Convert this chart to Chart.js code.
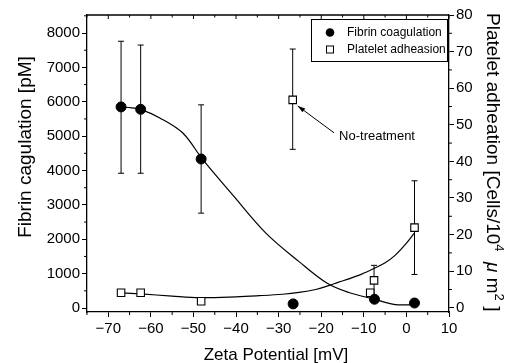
<!DOCTYPE html>
<html><head><meta charset="utf-8">
<script src="https://cdn.jsdelivr.net/npm/chart.js@4/dist/chart.umd.min.js"></script>
<style>html,body{margin:0;padding:0;background:#fff}</style>
</head><body>
<canvas id="c" width="519" height="363" style="width:519px;height:363px;display:block"></canvas>
<script>
// ---- data ----
const fibrinX = [-67.0, -62.4, -48.2, -26.6, -7.5, 1.9];
const fibrinY = [5850, 5780, 4335, 120, 255, 145];
const fibrinErrLow  = [3920, 3920, 2760, null, null, null];
const fibrinErrHigh = [7760, 7650, 5910, null, null, null];

const plateletX = [-67.0, -62.4, -48.2, -26.7, -8.5, -7.6, 1.9];
const plateletY = [4.1, 4.1, 1.8, 56.8, 4.1, 7.5, 21.9];
const plateletErrLow  = [null, null, 1.3, 43.3, null, 3.4, 9.1];
const plateletErrHigh = [null, null, 2.3, 70.7, null, 11.6, 34.7];

const fibrinFitX = [-67.0, -64.5, -62.4, -57.9, -52.5, -47.8, -40.8, -33.0, -25.2, -18.6, -13.5, -7.7, -2.6, 1.9];
const fibrinFitY = [5850, 5820, 5780, 5530, 5090, 4315, 3290, 2180, 1350, 720, 450, 262, 100, 100];

const plateletFitX = [-67.0, -62.4, -55.0, -48.5, -40.0, -34.6, -29.1, -25.2, -21.3, -18.4, -15.9, -13.5, -10.5, -7.7, -5.0, -2.6, -0.4, 1.8];
const plateletFitY = [4.1, 3.8, 3.2, 2.8, 3.0, 3.3, 3.7, 4.2, 5.0, 6.0, 7.0, 7.9, 9.2, 10.7, 12.3, 14.4, 17.1, 20.3];

const xTicks = [-70, -60, -50, -40, -30, -20, -10, 0, 10];
const xMinor = [-75, -65, -55, -45, -35, -25, -15, -5, 5];
const leftTicks = [0, 1000, 2000, 3000, 4000, 5000, 6000, 7000, 8000];
const leftMinor = [500, 1500, 2500, 3500, 4500, 5500, 6500, 7500, 8500];
const rightTicks = [0, 10, 20, 30, 40, 50, 60, 70, 80];
const rightMinor = [5, 15, 25, 35, 45, 55, 65, 75];

const seriesNames = ['Fibrin coagulation', 'Platelet adheasion'];
const xTitle = 'Zeta Potential [mV]';
const leftTitle = 'Fibrin cagulation [pM]';
const noteText = 'No-treatment';
const noteX = -15.8, noteY = 46.7;       // text anchor (right axis units)
const noteTargetX = -26.7, noteTargetY = 56.8;

// ---- helpers ----
const FONT = '"Liberation Sans", Arial, Helvetica, sans-serif';
const toPts = (xs, ys) => xs.map((x, i) => ({x, y: ys[i]}));
function errSegments(xs, lo, hi) {
  const out = [];
  xs.forEach((x, i) => { if (lo[i] == null) return; out.push({x, y: lo[i]}, {x, y: hi[i]}, {x, y: null}); });
  return out;
}
function errCaps(xs, lo, hi) {
  const out = [];
  xs.forEach((x, i) => { if (lo[i] == null) return; out.push({x, y: lo[i]}, {x, y: hi[i]}); });
  return out;
}
const fmt = v => (v < 0 ? '\u2212' + Math.abs(v) : String(v));

const decor = {
  id: 'decor',
  afterDraw(chart) {
    const c = chart.ctx, a = chart.chartArea;
    const sx = chart.scales.x, sy = chart.scales.y, sr = chart.scales.y2;
    c.save();
    c.strokeStyle = '#000'; c.fillStyle = '#000';
    c.lineWidth = 1.3;
    c.beginPath(); c.moveTo(a.left, a.top); c.lineTo(a.right, a.top); c.stroke();
    c.lineWidth = 1;
    c.beginPath();
    xTicks.forEach(v => { const p = sx.getPixelForValue(v); c.moveTo(p, a.top); c.lineTo(p, a.top + 4); });
    xMinor.forEach(v => { const p = sx.getPixelForValue(v); c.moveTo(p, a.top); c.lineTo(p, a.top + 2.5); });
    xMinor.forEach(v => { const p = sx.getPixelForValue(v); c.moveTo(p, a.bottom); c.lineTo(p, a.bottom + 3); });
    leftMinor.forEach(v => { const p = sy.getPixelForValue(v); c.moveTo(a.left, p); c.lineTo(a.left - 3, p); });
    rightMinor.forEach(v => { const p = sr.getPixelForValue(v); c.moveTo(a.right, p); c.lineTo(a.right + 3, p); });
    c.stroke();

    c.textBaseline = 'alphabetic';
    c.font = '17px ' + FONT; c.textAlign = 'center';
    c.fillText(xTitle, 276, 360);
    c.save(); c.translate(31, 147); c.rotate(-Math.PI / 2);
    c.font = '19px ' + FONT; c.fillText(leftTitle, 0, 0); c.restore();

    c.save(); c.translate(487, 13); c.rotate(Math.PI / 2);
    c.textAlign = 'left';
    const parts = [
      ['Platelet adheation [Cells/10', '19px ' + FONT, 0],
      ['4', '13px ' + FONT, -8],
      ['  ', '19px ' + FONT, 0],
      ['\u03bc', 'italic 19px ' + FONT, 0],
      [' m', '19px ' + FONT, 0],
      ['2', '13px ' + FONT, -8],
      [' ]', '19px ' + FONT, 0]
    ];
    let px = 0;
    parts.forEach(([t, f, dy]) => { c.font = f; c.fillText(t, px, dy); px += c.measureText(t).width; });
    c.restore();

    const L = {l: 311, t: 19, r: 447, b: 61};
    c.lineWidth = 1;
    c.strokeRect(L.l + 0.5, L.t + 0.5, L.r - L.l, L.b - L.t);
    c.font = '12px ' + FONT; c.textAlign = 'left'; c.textBaseline = 'middle';
    const ly = [32.5, 49.5];
    c.beginPath(); c.arc(330, ly[0], 4.3, 0, Math.PI * 2); c.fill();
    c.fillText(seriesNames[0], 347, ly[0] + 0.5);
    c.fillStyle = '#fff'; c.fillRect(326.5, ly[1] - 3.5, 7, 7);
    c.lineWidth = 1; c.strokeRect(326.5, ly[1] - 3.5, 7, 7);
    c.fillStyle = '#000';
    c.fillText(seriesNames[1], 347, ly[1] + 0.5);

    const tx = sx.getPixelForValue(noteX), ty = sr.getPixelForValue(noteY);
    c.font = '13px ' + FONT; c.textBaseline = 'middle';
    c.fillText(noteText, tx, ty);
    const hx = sx.getPixelForValue(noteTargetX) + 5, hy = sr.getPixelForValue(noteTargetY) + 6;
    const ex = tx - 5, ey = ty - 4;
    c.lineWidth = 1;
    c.beginPath(); c.moveTo(ex, ey); c.lineTo(hx, hy); c.stroke();
    const ang = Math.atan2(hy - ey, hx - ex), len = 8, w = 0.3;
    c.beginPath(); c.moveTo(hx, hy);
    c.lineTo(hx - len * Math.cos(ang - w), hy - len * Math.sin(ang - w));
    c.lineTo(hx - len * Math.cos(ang + w), hy - len * Math.sin(ang + w));
    c.closePath(); c.fill();
    c.restore();
  }
};

const tickFont = {family: FONT, size: 15};
new Chart(document.getElementById('c'), {
  type: 'scatter',
  data: {
    datasets: [
      {label: seriesNames[0], data: toPts(fibrinX, fibrinY), yAxisID: 'y', order: 0,
       pointStyle: 'circle', pointRadius: 5, backgroundColor: '#000', borderColor: '#000', borderWidth: 1},
      {label: seriesNames[1], data: toPts(plateletX, plateletY), yAxisID: 'y2', order: 0,
       pointStyle: 'rect', pointRadius: 5.3, backgroundColor: '#fff', borderColor: '#000', borderWidth: 1.1},
      {label: 'fitF', data: toPts(fibrinFitX, fibrinFitY), yAxisID: 'y', order: 1, showLine: true,
       pointRadius: 0, borderColor: '#000', borderWidth: 1.2, tension: 0.35},
      {label: 'fitP', data: toPts(plateletFitX, plateletFitY), yAxisID: 'y2', order: 1, showLine: true,
       pointRadius: 0, borderColor: '#000', borderWidth: 1.2, tension: 0.35},
      {label: 'errF', data: errSegments(fibrinX, fibrinErrLow, fibrinErrHigh), yAxisID: 'y', order: 2,
       showLine: true, spanGaps: false, pointRadius: 0, borderColor: '#000', borderWidth: 1},
      {label: 'errP', data: errSegments(plateletX, plateletErrLow, plateletErrHigh), yAxisID: 'y2', order: 2,
       showLine: true, spanGaps: false, pointRadius: 0, borderColor: '#000', borderWidth: 1},
      {label: 'capF', data: errCaps(fibrinX, fibrinErrLow, fibrinErrHigh), yAxisID: 'y', order: 2,
       pointStyle: 'line', pointRadius: 3, borderColor: '#000', borderWidth: 1},
      {label: 'capP', data: errCaps(plateletX, plateletErrLow, plateletErrHigh), yAxisID: 'y2', order: 2,
       pointStyle: 'line', pointRadius: 3, borderColor: '#000', borderWidth: 1}
    ]
  },
  options: {
    responsive: false, animation: false, devicePixelRatio: 1,
    layout: {padding: {top: 15, left: 0, right: 0, bottom: 0}},
    plugins: {legend: {display: false}, tooltip: {enabled: false}},
    scales: {
      x: {type: 'linear', position: 'bottom', min: -75, max: 10,
          afterBuildTicks: s => { s.ticks = xTicks.map(v => ({value: v})); },
          afterFit: s => { s.height = 51; },
          grid: {drawOnChartArea: false, tickLength: 5, tickColor: '#000', tickWidth: 1},
          border: {color: '#000', width: 1.3},
          ticks: {font: tickFont, color: '#000', padding: 3, maxRotation: 0, autoSkip: false, callback: v => fmt(v)}},
      y: {type: 'linear', position: 'left', min: -116, max: 8524,
          afterBuildTicks: s => { s.ticks = leftTicks.map(v => ({value: v})); },
          afterFit: s => { s.width = 87; },
          grid: {drawOnChartArea: false, tickLength: 5, tickColor: '#000', tickWidth: 1},
          border: {color: '#000', width: 1.3},
          ticks: {font: tickFont, color: '#000', padding: 2, autoSkip: false, callback: v => fmt(v)}},
      y2: {type: 'linear', position: 'right', min: -1.15, max: 80,
          afterBuildTicks: s => { s.ticks = rightTicks.map(v => ({value: v})); },
          afterFit: s => { s.width = 70; },
          grid: {drawOnChartArea: false, tickLength: 5, tickColor: '#000', tickWidth: 1},
          border: {color: '#000', width: 1.3},
          ticks: {font: tickFont, color: '#000', padding: 2, autoSkip: false, callback: v => fmt(v)}}
    }
  },
  plugins: [decor]
});
</script>
</body></html>
